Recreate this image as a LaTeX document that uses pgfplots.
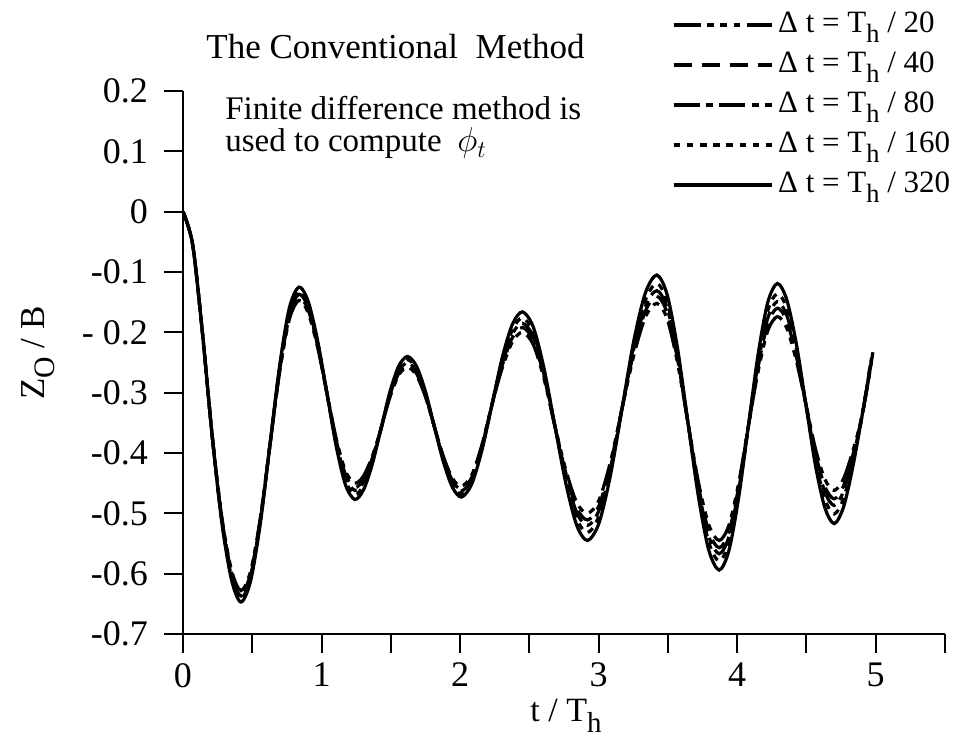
\documentclass[border=0pt]{standalone}
\usepackage{pgfplots}
\pgfplotsset{compat=1.18}
\usepackage{graphicx}
\usepackage{fontspec}
\setmainfont{Liberation Serif}

% lowered, slightly reduced subscript as used in T_h
\newcommand{\lsub}[1]{\raisebox{-0.3em}{\scalebox{0.85}{#1}}}
\newcommand{\Th}{T\lsub{h}}

\begin{document}
\begin{tikzpicture}
\begin{axis}[
  at={(0pt,0pt)}, anchor=south west,
  scale only axis, width=381pt, height=271.5pt,
  xmin=0, xmax=5.5, ymin=-0.7, ymax=0.2,
  axis lines=left,
  axis line style={line width=1pt, -},
  every tick/.style={black, line width=1pt},
  tick align=outside, major tick length=9.5pt,
  xtick={0,0.5,1,1.5,2,2.5,3,3.5,4,4.5,5,5.5},
  xticklabels={0,,1,,2,,3,,4,,5,},
  ytick={-0.7,-0.6,-0.5,-0.4,-0.3,-0.2,-0.1,0,0.1,0.2},
  yticklabels={-0.7,-0.6,-0.5,-0.4,-0.3,- 0.2,-0.1,0,0.1,0.2},
  tick label style={font=\fontsize{18}{18}\selectfont},
  yticklabel shift=4.5pt,
  xticklabel shift=1.5pt,
  xlabel={t / \Th},
  ylabel={Z\lsub{O} / B},
  every axis x label/.style={at={(axis description cs:0.5026,-0.162)}, anchor=base, font=\fontsize{17}{17}\selectfont},
  every axis y label/.style={at={(axis description cs:-0.19,0.5175)}, rotate=90, anchor=center, font=\fontsize{17.5}{17.5}\selectfont},
  legend style={at={(axis description cs:0.6417,1.1584)}, anchor=north west,
    draw=none, fill=none, inner sep=0pt, outer sep=0pt,
    row sep=0pt, column sep=2.5pt,
    font=\fontsize{15.5}{15.5}\selectfont,
    nodes={inner sep=0pt, outer sep=0pt, text height=14pt, text depth=6pt}},
  legend cell align=left,
  legend image code/.code={\draw[#1] (0pt,0pt) -- (49pt,0pt);},
  every axis plot/.append style={black, line width=1.6pt, smooth},
]

% dt = T_h/20
\addplot[dash pattern=on 13.5pt off 3.3pt on 3.3pt off 3.3pt on 3.3pt off 3.3pt on 3.3pt off 3.3pt] coordinates {
(0,0) (0.07,-0.055) (0.14,-0.2) (0.21,-0.37) (0.28,-0.506) (0.35,-0.594) (0.418,-0.628)
(0.488,-0.596) (0.558,-0.508) (0.628,-0.386) (0.697,-0.267) (0.767,-0.179) (0.837,-0.147)
(0.904,-0.168) (0.971,-0.224) (1.039,-0.301) (1.106,-0.376) (1.173,-0.430) (1.24,-0.450)
(1.303,-0.438) (1.367,-0.405) (1.43,-0.359) (1.493,-0.308) (1.557,-0.271) (1.62,-0.258)
(1.685,-0.271) (1.75,-0.307) (1.815,-0.357) (1.88,-0.406) (1.945,-0.442) (2.01,-0.455)
(2.083,-0.437) (2.157,-0.387) (2.23,-0.320) (2.303,-0.260) (2.377,-0.216) (2.45,-0.200)
(2.528,-0.220) (2.607,-0.278) (2.685,-0.356) (2.763,-0.428) (2.842,-0.482) (2.92,-0.500)
(3.003,-0.478) (3.087,-0.413) (3.17,-0.325) (3.253,-0.239) (3.337,-0.175) (3.42,-0.152)
(3.495,-0.178) (3.57,-0.251) (3.645,-0.350) (3.72,-0.448) (3.795,-0.519) (3.87,-0.545)
(3.94,-0.520) (4.01,-0.451) (4.08,-0.357) (4.15,-0.266) (4.22,-0.198) (4.29,-0.174)
(4.358,-0.193) (4.427,-0.247) (4.495,-0.318) (4.563,-0.391) (4.632,-0.443) (4.70,-0.462)
(4.767,-0.443) (4.833,-0.398) (4.9,-0.340) (4.96,-0.262)
};
\addlegendentry{Δ t = \Th{} / 20}

% dt = T_h/40
\addplot[dash pattern=on 9pt off 5pt] coordinates {
(0,0) (0.07,-0.055) (0.14,-0.2) (0.21,-0.37) (0.28,-0.508) (0.35,-0.598) (0.418,-0.633)
(0.488,-0.600) (0.558,-0.510) (0.628,-0.386) (0.697,-0.264) (0.767,-0.174) (0.837,-0.142)
(0.904,-0.163) (0.971,-0.221) (1.039,-0.301) (1.106,-0.379) (1.173,-0.436) (1.24,-0.457)
(1.303,-0.444) (1.367,-0.408) (1.43,-0.359) (1.493,-0.306) (1.557,-0.268) (1.62,-0.254)
(1.685,-0.268) (1.75,-0.305) (1.815,-0.357) (1.88,-0.408) (1.945,-0.446) (2.01,-0.460)
(2.083,-0.441) (2.157,-0.389) (2.23,-0.320) (2.303,-0.256) (2.377,-0.209) (2.45,-0.192)
(2.528,-0.213) (2.607,-0.274) (2.685,-0.356) (2.763,-0.433) (2.842,-0.491) (2.92,-0.511)
(3.003,-0.487) (3.087,-0.418) (3.17,-0.325) (3.253,-0.233) (3.337,-0.165) (3.42,-0.140)
(3.495,-0.168) (3.57,-0.245) (3.645,-0.350) (3.72,-0.454) (3.795,-0.530) (3.87,-0.557)
(3.94,-0.531) (4.01,-0.457) (4.08,-0.357) (4.15,-0.259) (4.22,-0.186) (4.29,-0.160)
(4.358,-0.181) (4.427,-0.240) (4.495,-0.318) (4.563,-0.398) (4.632,-0.455) (4.70,-0.476)
(4.767,-0.455) (4.833,-0.405) (4.9,-0.340) (4.96,-0.255)
};
\addlegendentry{Δ t = \Th{} / 40}

% dt = T_h/80
\addplot[dash pattern=on 13pt off 3.3pt on 3.3pt off 3.3pt] coordinates {
(0,0) (0.07,-0.055) (0.14,-0.2) (0.21,-0.37) (0.28,-0.510) (0.35,-0.601) (0.418,-0.637)
(0.488,-0.603) (0.558,-0.512) (0.628,-0.386) (0.697,-0.262) (0.767,-0.170) (0.837,-0.137)
(0.904,-0.159) (0.971,-0.219) (1.039,-0.301) (1.106,-0.382) (1.173,-0.440) (1.24,-0.462)
(1.303,-0.448) (1.367,-0.411) (1.43,-0.359) (1.493,-0.304) (1.557,-0.265) (1.62,-0.250)
(1.685,-0.265) (1.75,-0.303) (1.815,-0.357) (1.88,-0.410) (1.945,-0.449) (2.01,-0.463)
(2.083,-0.444) (2.157,-0.391) (2.23,-0.320) (2.303,-0.253) (2.377,-0.203) (2.45,-0.185)
(2.528,-0.207) (2.607,-0.271) (2.685,-0.356) (2.763,-0.438) (2.842,-0.499) (2.92,-0.520)
(3.003,-0.495) (3.087,-0.423) (3.17,-0.325) (3.253,-0.228) (3.337,-0.157) (3.42,-0.131)
(3.495,-0.160) (3.57,-0.240) (3.645,-0.350) (3.72,-0.459) (3.795,-0.538) (3.87,-0.567)
(3.94,-0.539) (4.01,-0.462) (4.08,-0.357) (4.15,-0.253) (4.22,-0.177) (4.29,-0.149)
(4.358,-0.172) (4.427,-0.234) (4.495,-0.318) (4.563,-0.403) (4.632,-0.464) (4.70,-0.487)
(4.767,-0.464) (4.833,-0.410) (4.9,-0.340) (4.97,-0.248)
};
\addlegendentry{Δ t = \Th{} / 80}

% dt = T_h/160
\addplot[dash pattern=on 3.3pt off 3.3pt] coordinates {
(0,0) (0.07,-0.055) (0.14,-0.2) (0.21,-0.37) (0.28,-0.512) (0.35,-0.605) (0.418,-0.641)
(0.488,-0.607) (0.558,-0.514) (0.628,-0.386) (0.697,-0.259) (0.767,-0.166) (0.837,-0.132)
(0.904,-0.155) (0.971,-0.216) (1.039,-0.301) (1.106,-0.385) (1.173,-0.446) (1.24,-0.469)
(1.303,-0.454) (1.367,-0.414) (1.43,-0.359) (1.493,-0.302) (1.557,-0.261) (1.62,-0.245)
(1.685,-0.261) (1.75,-0.301) (1.815,-0.357) (1.88,-0.412) (1.945,-0.452) (2.01,-0.468)
(2.083,-0.447) (2.157,-0.393) (2.23,-0.320) (2.303,-0.248) (2.377,-0.196) (2.45,-0.176)
(2.528,-0.200) (2.607,-0.266) (2.685,-0.356) (2.763,-0.443) (2.842,-0.509) (2.92,-0.532)
(3.003,-0.504) (3.087,-0.428) (3.17,-0.325) (3.253,-0.222) (3.337,-0.147) (3.42,-0.119)
(3.495,-0.150) (3.57,-0.234) (3.645,-0.350) (3.72,-0.465) (3.795,-0.548) (3.87,-0.579)
(3.94,-0.549) (4.01,-0.468) (4.08,-0.357) (4.15,-0.246) (4.22,-0.165) (4.29,-0.136)
(4.358,-0.160) (4.427,-0.227) (4.495,-0.318) (4.563,-0.410) (4.632,-0.476) (4.70,-0.501)
(4.767,-0.476) (4.833,-0.417) (4.9,-0.340) (4.97,-0.242)
};
\addlegendentry{Δ t = \Th{} / 160}

% dt = T_h/320
\addplot[solid] coordinates {
(0,0) (0.07,-0.055) (0.14,-0.2) (0.21,-0.37) (0.28,-0.515) (0.35,-0.610) (0.418,-0.647)
(0.488,-0.612) (0.558,-0.517) (0.628,-0.386) (0.697,-0.256) (0.767,-0.160) (0.837,-0.125)
(0.904,-0.149) (0.971,-0.213) (1.039,-0.301) (1.106,-0.389) (1.173,-0.453) (1.24,-0.477)
(1.303,-0.461) (1.367,-0.418) (1.43,-0.359) (1.493,-0.299) (1.557,-0.256) (1.62,-0.240)
(1.685,-0.256) (1.75,-0.298) (1.815,-0.357) (1.88,-0.415) (1.945,-0.457) (2.01,-0.473)
(2.083,-0.452) (2.157,-0.396) (2.23,-0.320) (2.303,-0.243) (2.377,-0.187) (2.45,-0.166)
(2.528,-0.191) (2.607,-0.261) (2.685,-0.356) (2.763,-0.450) (2.842,-0.520) (2.92,-0.545)
(3.003,-0.516) (3.087,-0.435) (3.17,-0.325) (3.253,-0.215) (3.337,-0.135) (3.42,-0.105)
(3.495,-0.138) (3.57,-0.227) (3.645,-0.350) (3.72,-0.472) (3.795,-0.561) (3.87,-0.594)
(3.94,-0.562) (4.01,-0.475) (4.08,-0.357) (4.15,-0.238) (4.22,-0.151) (4.29,-0.119)
(4.358,-0.146) (4.427,-0.219) (4.495,-0.318) (4.563,-0.418) (4.632,-0.490) (4.70,-0.517)
(4.767,-0.490) (4.833,-0.425) (4.9,-0.340) (4.98,-0.233)
};
\addlegendentry{Δ t = \Th{} / 320}
\end{axis}

% title and note
\node[anchor=base west, inner sep=0pt, font=\fontsize{17.5}{17.5}\selectfont]
  at (11.5pt,287.5pt) {The Conventional\ \ Method};
\node[anchor=base west, inner sep=0pt, font=\fontsize{16.5}{16.5}\selectfont]
  at (21pt,257pt) {Finite difference method is};
\node[anchor=base west, inner sep=0pt, font=\fontsize{16.5}{16.5}\selectfont]
  at (21pt,241pt) {used to compute};
\node[anchor=base west, inner sep=0pt, font=\fontsize{17}{17}\selectfont]
  at (137pt,241pt) {$\phi_t$};

\pgfresetboundingbox
\path[use as bounding box] (-91.5pt,-53pt) rectangle (390.5pt,317pt);
\end{tikzpicture}
\end{document}
